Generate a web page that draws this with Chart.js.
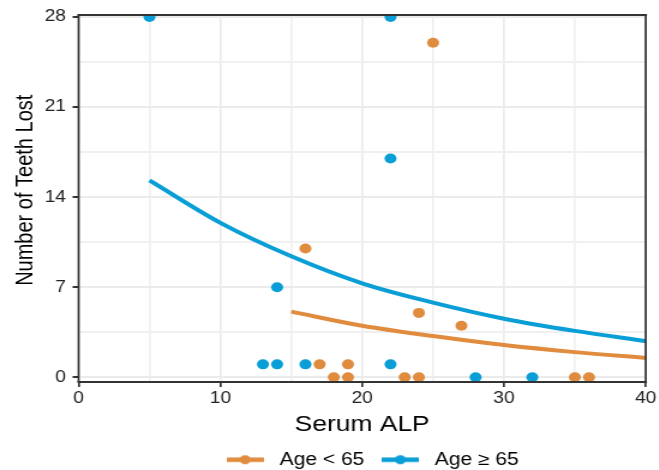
<!DOCTYPE html>
<html><head><meta charset="utf-8">
<script src="https://cdn.jsdelivr.net/npm/chart.js@4.4.1/dist/chart.umd.min.js"></script>
<style>
html,body{margin:0;padding:0;background:#fff;overflow:hidden;}
#wrap{width:659px;height:470px;overflow:hidden;}
#c{display:block;transform:scaleX(1.2);transform-origin:0 0;}
</style></head><body>
<div id="wrap"><canvas id="c" width="549" height="470" style="width:549px;height:470px"></canvas></div>
<script>
// ---- data ----
const seriesNames = ['Age < 65', 'Age \u2265 65'];
const youngX = [25, 16, 24, 27, 17, 19, 18, 19, 23, 24, 35, 36];
const youngY = [26, 10, 5, 4, 1, 1, 0, 0, 0, 0, 0, 0];
const oldX = [5, 22, 22, 14, 13, 14, 16, 22, 28, 32];
const oldY = [28, 28, 17, 7, 1, 1, 1, 1, 0, 0];
const youngFitX = [15, 20, 25, 30, 35, 40];
const youngFitY = [5.1, 4.0, 3.2, 2.5, 1.95, 1.5];
const oldFitX = [5, 10, 15, 20, 25, 30, 35, 40];
const oldFitY = [15.3, 12.0, 9.4, 7.3, 5.8, 4.55, 3.6, 2.8];
const xTickLabels = [0, 10, 20, 30, 40];
const xMinorGrid = [5, 15, 25, 35];
const yTickLabels = [0, 7, 14, 21, 28];
const yMinorGrid = [3.5, 10.5, 17.5, 24.5];
const xTitle = 'Serum ALP';
const yTitle = '   Number of Teeth Lost';

const colors = ['#E08B3E', '#0A9ED6'];
const FONT = "'Liberation Sans', Arial, Helvetica, sans-serif";

const pts = (xs, ys) => xs.map((x, i) => ({x: x, y: ys[i]}));

function legendIcon(color) {
  const c = document.createElement('canvas');
  c.width = 31; c.height = 11;
  const g = c.getContext('2d');
  g.strokeStyle = color; g.lineWidth = 4.5;
  g.beginPath(); g.moveTo(0, 5.5); g.lineTo(31, 5.5); g.stroke();
  g.fillStyle = color;
  g.beginPath(); g.arc(15.5, 5.5, 4.5, 0, Math.PI * 2); g.fill();
  return c;
}
const icons = colors.map(legendIcon);

const panelBorder = {
  id: 'panelBorder',
  afterLayout(chart) {
    const lg = chart.legend;
    if (lg) { lg.left += 6.5; lg.right += 6.5; }
  },
  afterDatasetsDraw(chart) {
    const {ctx, chartArea: a} = chart;
    ctx.save();
    ctx.strokeStyle = '#333';
    ctx.lineWidth = 2;
    ctx.beginPath();
    ctx.moveTo(a.left - 1, a.top); ctx.lineTo(a.right + 1, a.top);
    ctx.moveTo(a.left - 1, a.bottom); ctx.lineTo(a.right + 1, a.bottom);
    ctx.stroke();
    ctx.lineWidth = 1.7;
    ctx.beginPath();
    ctx.moveTo(a.left, a.top); ctx.lineTo(a.left, a.bottom);
    ctx.moveTo(a.right, a.top); ctx.lineTo(a.right, a.bottom);
    ctx.stroke();
    ctx.restore();
  }
};

const isMajor = (list, v) => list.some(m => Math.abs(m - v) < 1e-6);

new Chart(document.getElementById('c'), {
  type: 'scatter',
  data: {
    datasets: [
      {label: seriesNames[0], data: pts(youngX, youngY), backgroundColor: colors[0], borderWidth: 0,
       pointRadius: 5, pointHoverRadius: 5, clip: 0, order: 2},
      {label: seriesNames[1], data: pts(oldX, oldY), backgroundColor: colors[1], borderWidth: 0,
       pointRadius: 5, pointHoverRadius: 5, clip: 0, order: 2},
      {label: seriesNames[0] + ' fit', data: pts(youngFitX, youngFitY), showLine: true, borderColor: colors[0],
       borderWidth: 4, pointRadius: 0, tension: 0.4, cubicInterpolationMode: 'monotone', fill: false, clip: 0, order: 1},
      {label: seriesNames[1] + ' fit', data: pts(oldFitX, oldFitY), showLine: true, borderColor: colors[1],
       borderWidth: 4, pointRadius: 0, tension: 0.4, cubicInterpolationMode: 'monotone', fill: false, clip: 0, order: 1}
    ]
  },
  options: {
    responsive: false,
    animation: false,
    events: [],
    layout: {padding: {left: 9, right: 9, top: 15, bottom: -8.5}},
    plugins: {
      tooltip: {enabled: false},
      legend: {
        position: 'bottom',
        fullSize: false,
        labels: {
          usePointStyle: true,
          pointStyleWidth: 40,
          padding: 10,
          color: '#000',
          font: {family: FONT, size: 17.5},
          generateLabels: () => seriesNames.map((n, i) => ({
            text: n, pointStyle: icons[i], fillStyle: colors[i], strokeStyle: colors[i],
            lineWidth: 0, hidden: false, datasetIndex: i, fontColor: '#000'
          }))
        }
      }
    },
    scales: {
      x: {
        type: 'linear', min: 0, max: 40,
        afterBuildTicks: s => { s.ticks = xTickLabels.concat(xMinorGrid).sort((a, b) => a - b).map(v => ({value: v})); },
        ticks: {
          autoSkip: false, maxRotation: 0, padding: 2, color: '#222',
          font: {family: FONT, size: 16},
          callback: v => isMajor(xTickLabels, v) ? String(v) : ''
        },
        grid: {
          color: c => isMajor(xTickLabels, c.tick.value) ? '#EBEBEB' : '#F0F0F0',
          lineWidth: 1.7,
          drawTicks: true, tickLength: 5, tickWidth: 1.7,
          tickColor: c => isMajor(xTickLabels, c.tick.value) ? '#333' : 'rgba(0,0,0,0)'
        },
        border: {display: false},
        title: {display: true, text: xTitle, color: '#000', font: {family: FONT, size: 22},
                padding: {top: 1, bottom: 3.3}}
      },
      y: {
        type: 'linear', min: -0.38, max: 28.15,
        afterBuildTicks: s => { s.ticks = yTickLabels.concat(yMinorGrid).sort((a, b) => a - b).map(v => ({value: v})); },
        ticks: {
          autoSkip: false, padding: 5.5, color: '#222',
          font: {family: FONT, size: 16},
          callback: v => isMajor(yTickLabels, v) ? String(v) : ''
        },
        grid: {
          color: c => isMajor(yTickLabels, c.tick.value) ? '#EBEBEB' : '#F0F0F0',
          lineWidth: 2,
          drawTicks: true, tickLength: 5, tickWidth: 2,
          tickColor: c => isMajor(yTickLabels, c.tick.value) ? '#333' : 'rgba(0,0,0,0)'
        },
        border: {display: false},
        title: {display: true, text: yTitle, color: '#000', font: {family: FONT, size: 20},
                padding: {top: 0, bottom: -1.3}}
      }
    }
  },
  plugins: [panelBorder]
});
</script>
</body></html>
